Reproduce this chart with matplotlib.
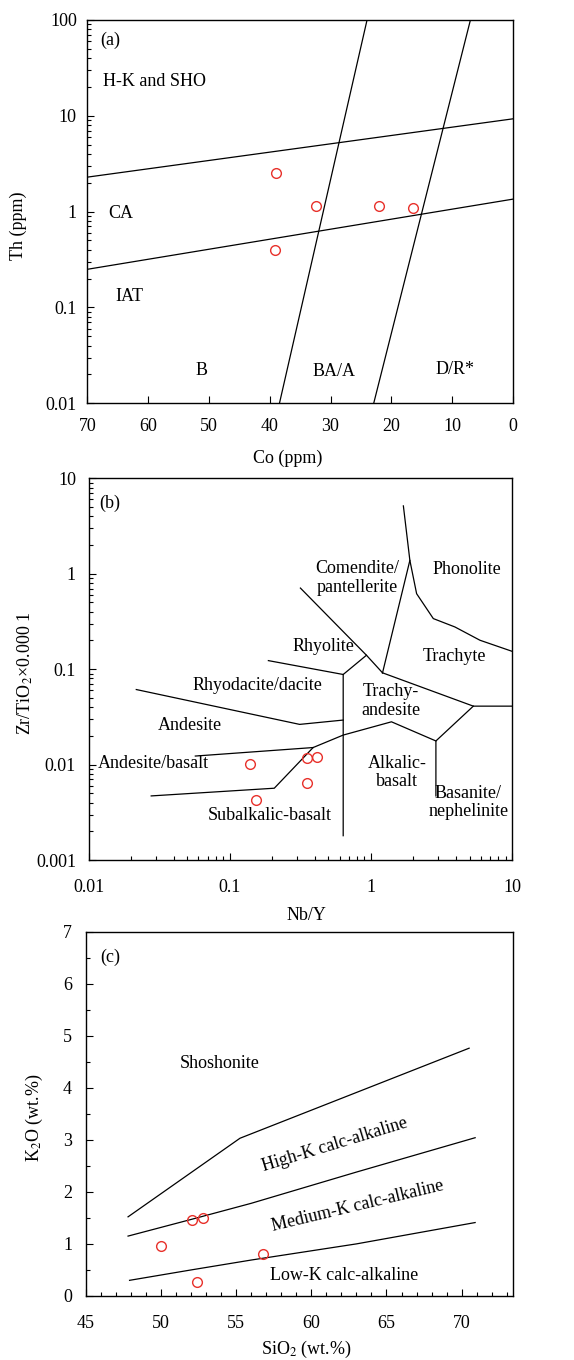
import matplotlib
matplotlib.use('Agg')
import matplotlib.pyplot as plt
from matplotlib.ticker import FuncFormatter, LogLocator, MultipleLocator, NullFormatter

plt.rcParams['font.family'] = ['Liberation Serif', 'DejaVu Serif']
plt.rcParams['mathtext.fontset'] = 'stix'
plt.rcParams['font.size'] = 13

# ---- (a) Th vs Co ----
co_pts = [38.9, 32.4, 22.0, 16.4, 39.2]
th_pts = [2.5, 1.15, 1.15, 1.10, 0.40]

a_upper_co = [70, 0]
a_upper_th = [2.29, 9.3]
a_lower_co = [70, 0]
a_lower_th = [0.25, 1.35]
a_left_co = [38.4, 24.0]
a_left_th = [0.01, 100]
a_right_co = [22.9, 7.0]
a_right_th = [0.01, 100]

a_labels = ['H-K and SHO', 'CA', 'IAT', 'B', 'BA/A', 'D/R*']
a_label_co = [58.9, 64.5, 63.0, 51.2, 29.5, 9.5]
a_label_th = [22.7, 0.95, 0.13, 0.0218, 0.0215, 0.0225]

# ---- (b) Zr/TiO2 vs Nb/Y ----
nby_pts = [0.140, 0.153, 0.353, 0.416, 0.355]
zrti_pts = [0.0101, 0.00428, 0.0118, 0.0120, 0.00649]

b_lines = [
    ([1.70, 1.89, 2.11, 2.77, 3.94, 5.93, 10], [5.14, 1.38, 0.618, 0.339, 0.277, 0.201, 0.154]),
    ([1.89, 1.21], [1.38, 0.0916]),
    ([0.317, 0.931, 1.21], [0.708, 0.140, 0.0916]),
    ([0.931, 0.637, 0.637], [0.140, 0.088, 0.0018]),
    ([0.188, 0.637], [0.123, 0.088]),
    ([1.21, 5.32, 10], [0.0916, 0.041, 0.041]),
    ([5.32, 2.89, 2.89], [0.041, 0.0177, 0.0047]),
    ([2.89, 1.40, 0.637, 0.390, 0.207, 0.0278], [0.0177, 0.0281, 0.0204, 0.0151, 0.00566, 0.0047]),
    ([0.0571, 0.390], [0.0123, 0.0151]),
    ([0.0218, 0.313, 0.637], [0.0612, 0.0264, 0.0293]),
]

b_labels = ['Comendite/\npantellerite', 'Phonolite', 'Rhyolite', 'Trachyte',
            'Rhyodacite/dacite', 'Trachy-\nandesite', 'Andesite', 'Alkalic-\nbasalt',
            'Andesite/basalt', 'Basanite/\nnephelinite', 'Subalkalic-basalt']
b_label_x = [0.80, 4.82, 0.459, 3.88, 0.157, 1.38, 0.0526, 1.54, 0.029, 4.90, 0.192]
b_label_y = [0.90, 1.12, 0.171, 0.137, 0.0675, 0.0463, 0.0254, 0.00824, 0.0102, 0.0040, 0.00295]

# ---- (c) K2O vs SiO2 ----
sio2_pts = [49.97, 52.08, 52.79, 52.39, 56.78]
k2o_pts = [0.95, 1.45, 1.49, 0.275, 0.81]

c_sho_x = [47.8, 55.25, 70.5]
c_sho_y = [1.52, 3.03, 4.76]
c_hk_x = [47.8, 52, 56, 63, 70.9]
c_hk_y = [1.15, 1.47, 1.78, 2.38, 3.04]
c_lk_x = [47.9, 52, 56, 63, 70.9]
c_lk_y = [0.30, 0.50, 0.69, 1.00, 1.41]

c_labels = ['Shoshonite', 'High-K calc-alkaline', 'Medium-K calc-alkaline', 'Low-K calc-alkaline']
c_label_x = [53.88, 61.53, 63.09, 62.2]
c_label_y = [4.47, 2.90, 1.72, 0.39]
c_label_rot = [0, 17, 13.5, 0]

red = '#e8302a'
lw = 0.9

fig = plt.figure(figsize=(5.74, 13.6), dpi=100)
ax1 = fig.add_axes([0.1521, 0.7035, 0.7416, 0.2818])
ax2 = fig.add_axes([0.1542, 0.3676, 0.7378, 0.2807])
ax3 = fig.add_axes([0.1498, 0.0471, 0.7434, 0.2679])

fmt = FuncFormatter(lambda v, p: f'{v:g}')

for ax in (ax1, ax2, ax3):
    for s in ax.spines.values():
        s.set_linewidth(1.0)
    ax.tick_params(which='both', direction='in', top=False, right=False, width=0.8)
    ax.tick_params(which='major', length=5)
    ax.tick_params(which='minor', length=3)

# panel (a)
ax1.plot(a_upper_co, a_upper_th, color='black', lw=lw)
ax1.plot(a_lower_co, a_lower_th, color='black', lw=lw)
ax1.plot(a_left_co, a_left_th, color='black', lw=lw)
ax1.plot(a_right_co, a_right_th, color='black', lw=lw)
ax1.plot(co_pts, th_pts, 'o', mfc='none', mec=red, mew=1.0, ms=7)
for t, x, y in zip(a_labels, a_label_co, a_label_th):
    ax1.text(x, y, t, ha='center', va='center')
ax1.text(0.053, 0.948, '(a)', transform=ax1.transAxes, ha='center', va='center')
ax1.set_yscale('log')
ax1.set_xlim(70, 0)
ax1.set_ylim(0.01, 100)
ax1.set_xticks([70, 60, 50, 40, 30, 20, 10, 0])
ax1.yaxis.set_major_formatter(fmt)
ax1.yaxis.set_minor_formatter(NullFormatter())
ax1.tick_params(axis='x', pad=10.5)
ax1.tick_params(axis='y', pad=7.5)
ax1.set_xlabel('Co (ppm)')
ax1.set_ylabel('Th (ppm)')
ax1.xaxis.label.set_va('center')
ax1.yaxis.label.set_va('center')
ax1.xaxis.set_label_coords(0.471, -0.143)
ax1.yaxis.set_label_coords(-0.162, 0.463)

# panel (b)
for xs, ys in b_lines:
    ax2.plot(xs, ys, color='black', lw=lw)
ax2.plot(nby_pts, zrti_pts, 'o', mfc='none', mec=red, mew=1.0, ms=7)
for t, x, y in zip(b_labels, b_label_x, b_label_y):
    ax2.text(x, y, t, ha='center', va='center', linespacing=1.1)
ax2.text(0.049, 0.934, '(b)', transform=ax2.transAxes, ha='center', va='center')
ax2.set_xscale('log')
ax2.set_yscale('log')
ax2.set_xlim(0.01, 10)
ax2.set_ylim(0.001, 10)
ax2.xaxis.set_major_formatter(fmt)
ax2.yaxis.set_major_formatter(fmt)
ax2.xaxis.set_minor_formatter(NullFormatter())
ax2.yaxis.set_minor_formatter(NullFormatter())
ax2.xaxis.set_minor_locator(LogLocator(base=10, subs=range(2, 10)))
ax2.yaxis.set_minor_locator(LogLocator(base=10, subs=range(2, 10)))
ax2.tick_params(axis='x', pad=13.5)
ax2.tick_params(axis='y', pad=9)
ax2.set_xlabel('Nb/Y')
ax2.set_ylabel('Zr/TiO$_2$×0.000 1')
ax2.xaxis.label.set_va('center')
ax2.yaxis.label.set_va('center')
ax2.xaxis.set_label_coords(0.515, -0.144)
ax2.yaxis.set_label_coords(-0.15, 0.489)

# panel (c)
ax3.plot(c_sho_x, c_sho_y, color='black', lw=lw)
ax3.plot(c_hk_x, c_hk_y, color='black', lw=lw)
ax3.plot(c_lk_x, c_lk_y, color='black', lw=lw)
ax3.plot(sio2_pts, k2o_pts, 'o', mfc='none', mec=red, mew=1.0, ms=7)
for t, x, y, r in zip(c_labels, c_label_x, c_label_y, c_label_rot):
    ax3.text(x, y, t, ha='center', va='center', rotation=r, rotation_mode='anchor')
ax3.text(0.056, 0.930, '(c)', transform=ax3.transAxes, ha='center', va='center')
ax3.set_xlim(45, 73.4)
ax3.set_ylim(0, 7)
ax3.set_xticks([45, 50, 55, 60, 65, 70])
ax3.xaxis.set_minor_locator(MultipleLocator(1))
ax3.yaxis.set_minor_locator(MultipleLocator(0.5))
ax3.tick_params(axis='x', pad=13.5)
ax3.tick_params(axis='y', pad=10)
ax3.set_xlabel('SiO$_2$ (wt.%)')
ax3.set_ylabel('K$_2$O (wt.%)')
ax3.xaxis.label.set_va('center')
ax3.yaxis.label.set_va('center')
ax3.xaxis.set_label_coords(0.517, -0.148)
ax3.yaxis.set_label_coords(-0.12, 0.488)

fig.savefig('out.png', dpi=100)
